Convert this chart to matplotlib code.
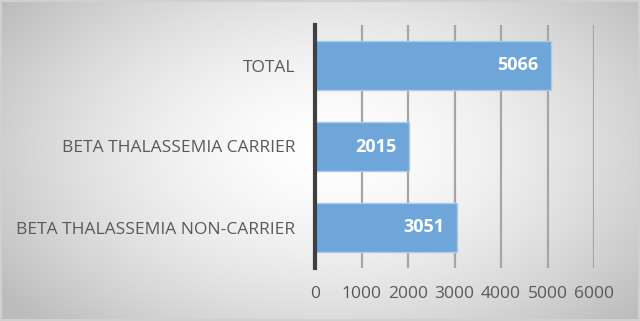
import numpy as np
import matplotlib
matplotlib.use("agg")
import matplotlib.pyplot as plt

categories = ["BETA THALASSEMIA NON-CARRIER", "BETA THALASSEMIA CARRIER", "TOTAL"]
values = [3051, 2015, 5066]
xticks = [0, 1000, 2000, 3000, 4000, 5000, 6000]

plt.rcParams["font.family"] = ["Open Sans", "DejaVu Sans"]

fig = plt.figure(figsize=(6.4, 3.21), dpi=100)

# radial gradient background
bg = fig.add_axes([0, 0, 1, 1], zorder=0)
yy, xx = np.mgrid[0:321, 0:640]
r = np.sqrt(((xx - 330) / 420.0) ** 2 + ((yy - 150) / 260.0) ** 2)
shade = np.clip(1.0 - 0.28 * r ** 1.6, 0.74, 1.0)
bg.imshow(np.dstack([shade, shade, shade]), aspect="auto", extent=[0, 1, 0, 1])
bg.set_xlim(0, 1)
bg.set_ylim(0, 1)
bg.axis("off")
bg.add_patch(plt.Rectangle((0.002, 0.004), 0.996, 0.992, fill=False,
                           edgecolor="#d0d0d0", linewidth=1.5))

ax = fig.add_axes([315 / 640, 1 - 268 / 321, (594 - 315) / 640, 243 / 321], zorder=1)
ax.patch.set_alpha(0)
y = np.arange(len(categories))
bars = ax.barh(y, values, height=0.6, color="#6fa6da", edgecolor="#a9cbea",
               linewidth=1.0, zorder=3)
for bar, v in zip(bars, values):
    ax.text(v - 270, bar.get_y() + bar.get_height() / 2, str(v),
            ha="right", va="center", color="white", fontsize=13,
            fontweight="bold", zorder=4)

ax.set_xlim(0, 6000)
ax.set_ylim(-0.5, 2.5)
ax.set_xticks(xticks)
ax.set_yticks(y)
ax.set_yticklabels(categories)
ax.grid(axis="x", color="#a6a6a6", linewidth=1.6, zorder=1)
ax.set_axisbelow(True)
for s in ["top", "right", "bottom"]:
    ax.spines[s].set_visible(False)
ax.spines["left"].set_color("#404040")
ax.spines["left"].set_linewidth(3)
ax.spines["left"].set_zorder(5)
ax.tick_params(axis="both", length=0, labelsize=12.5, labelcolor="#595959")
ax.tick_params(axis="y", pad=14)
ax.tick_params(axis="x", pad=13)

fig.savefig("out.png", dpi=100)
